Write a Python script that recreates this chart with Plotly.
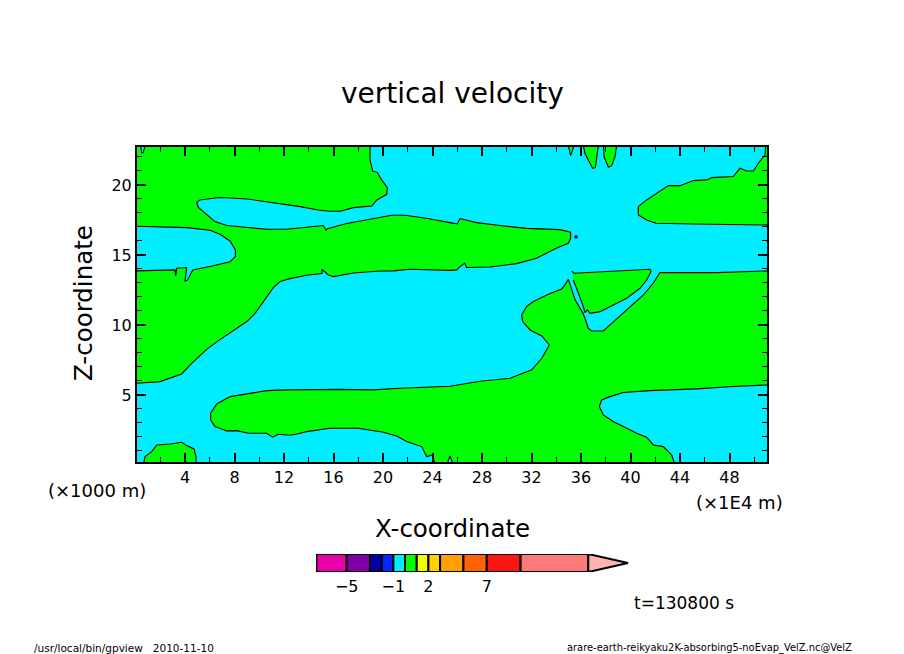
import plotly.graph_objects as go

CYAN = "#00EEFF"
GREEN = "#00FF00"

# Boundaries of the regions where vertical velocity lies in the 0..1 level band
band_x = [0.04,0.42,0.5,0.62,0.77,18.95,18.95,19.16,19.53,19.89,20.35,20.3,19.5,19.1,17.6,16.53,15.7,14.77,13.3,11.95,10.6,9.0,7.64,6.77,5.2,4.94,5.08,5.75,6.42,7.37,8.98,10.6,12.2,13.83,15.18,15.4,15.5,17.06,18.95,20.7,21.78,23.5,25.41,26.0,26.22,27.57,29.45,31.6,34.3,35.16,35.16,34.97,34.0,32.4,30.8,28.65,26.76,26.6,26.22,25.95,25.41,24.2,22.2,20.83,19.5,17.6,16.0,15.58,15.07,15.07,13.83,12.48,11.68,11.14,10.41,9.66,9.0,7.9,6.7,5.75,4.54,3.73,2.79,1.98,0.04,0.04,3.19,3.25,3.33,4.13,4.0,4.2,4.62,6.02,7.64,8.07,8.07,7.64,6.83,6.02,4.13,2.25,0.04]
band_y = [22.8,22.8,22.3,22.3,22.8,22.8,21.79,21.0,20.9,20.36,19.81,19.33,18.93,18.5,18.38,18.12,18.12,18.21,18.45,18.62,18.81,19.0,19.07,19.1,18.93,18.74,18.4,17.86,17.38,17.1,16.95,16.83,16.83,16.95,17.1,16.76,16.88,17.24,17.57,17.83,17.83,17.62,17.31,17.21,17.6,17.31,17.1,16.9,16.81,16.62,16.19,15.83,15.48,14.76,14.38,14.14,14.1,14.4,14.17,13.93,13.9,13.93,13.98,13.86,13.83,13.71,13.45,13.57,13.98,13.67,13.55,13.31,13.1,12.67,11.79,10.83,10.24,9.6,8.88,8.26,7.26,6.5,6.19,5.95,5.83,13.86,13.93,13.5,14.05,14.1,13.14,13.2,13.93,14.17,14.52,14.88,15.36,16.0,16.48,16.76,16.95,17.0,17.05]

spike1_x = [34.98,35.16,35.44]
spike1_y = [22.8,22.1,22.8]
spike2_x = [36.19,36.32,36.59,36.94,37.16,37.27,37.4]
spike2_y = [22.8,22.26,21.79,21.19,21.24,21.9,22.8]
spike3_x = [37.81,37.86,38.21,38.48,38.75,38.88]
spike3_y = [22.8,22.02,21.26,21.38,22.02,22.8]

upper_right_x = [50.92,50.87,50.33,49.93,49.4,48.85,48.3,46.56,46.16,45.08,44.0,43.06,42.11,41.3,40.63,40.63,41.3,42.06,45.08,49.12,51.1,51.1]
upper_right_y = [22.8,22.14,21.55,21.0,21.0,21.19,20.6,20.52,20.36,20.31,19.95,19.95,19.4,18.93,18.45,17.86,17.5,17.26,17.21,17.14,17.14,22.8]

wedge_x = [35.25,35.44,41.58,41.66,41.31,40.77,39.69,38.61,37.54,36.73,36.51,36.32,36.19,35.79,35.38]
wedge_y = [13.86,13.69,13.98,13.81,13.21,12.62,11.9,11.43,10.95,10.83,11.07,10.88,11.31,12.26,13.21]

lower_x = [34.98,35.52,36.13,36.32,36.59,36.86,37.8,38.48,39.69,41.04,41.84,42.25,42.38,46.96,50.47,51.1,51.1,48.3,45.35,41.58,39.42,38.34,37.67,37.48,37.8,38.6,39.42,40.5,41.3,41.85,42.65,43.33,43.6,25.7,25.41,25.15,24.2,24.01,23.53,23.12,21.91,21.1,20.03,18.81,18.0,15.72,13.83,13.03,12.48,11.54,11.08,10.6,9.12,8.18,7.37,6.42,6.07,6.07,6.56,7.64,9.12,10.6,12.2,16.52,19.2,21.37,25.41,27.84,30.27,32.02,32.83,33.44,32.83,31.88,31.29,31.2,31.6,32.15,33.36,34.44,34.7,34.98]
lower_y = [13.26,11.79,10.88,10.48,9.76,9.57,9.57,10.12,11.07,12.14,12.98,13.64,13.74,13.74,13.86,13.86,5.71,5.6,5.43,5.31,5.17,4.88,4.64,4.17,3.57,3.1,2.74,2.26,1.98,1.43,1.31,0.71,0.0,0.0,0.64,0.0,0.0,0.71,0.6,1.31,1.67,2.07,2.33,2.5,2.62,2.62,2.38,2.21,2.12,2.19,1.98,2.26,2.26,2.45,2.43,2.74,3.21,3.69,4.36,4.88,5.12,5.31,5.36,5.4,5.36,5.48,5.62,5.98,6.19,6.79,7.62,8.57,9.21,9.64,10.24,10.71,11.31,11.67,12.19,12.57,12.86,13.26]

patch_x = [0.63,0.77,1.31,1.71,2.79,3.73,4.13,4.73,4.89,4.89]
patch_y = [0.0,0.6,0.95,1.43,1.5,1.62,1.38,1.14,0.6,0.0]

speck_x = [35.6]
speck_y = [16.29]

regions = [(band_x, band_y), (spike1_x, spike1_y), (spike2_x, spike2_y), (spike3_x, spike3_y),
           (upper_right_x, upper_right_y), (wedge_x, wedge_y), (lower_x, lower_y), (patch_x, patch_y)]

# Colour key
level_edges = [-7.6,-5,-3,-2,-1,0,1,2,3,5,7,9.9,15.7]
level_colors = ["#E800A8","#8000A8","#0000A8","#0028FF",CYAN,GREEN,"#EEFF00","#FFD200","#FFA000","#FF6400","#FF1414","#FF7878"]
over_color = "#FFB4B4"
over_tip = 19.1
key_ticks = [-5,-1,2,7]

x_title = "X-coordinate"
z_title = "Z-coordinate"
main_title = "vertical velocity"

FONT = "DejaVu Sans"
fig = go.Figure()

for rx, ry in regions:
    fig.add_trace(go.Scatter(x=rx, y=ry, mode="lines", fill="toself", fillcolor=GREEN,
                             line=dict(color="black", width=1.1), hoverinfo="skip", showlegend=False))
fig.add_trace(go.Scatter(x=speck_x, y=speck_y, mode="markers",
                         marker=dict(color="black", size=3, symbol="square"), showlegend=False))

for lo, hi, c in zip(level_edges[:-1], level_edges[1:], level_colors):
    fig.add_trace(go.Bar(y=[0.5], x=[hi - lo], base=[lo], width=[1], orientation="h",
                         marker=dict(color=c, line=dict(color="black", width=2)),
                         xaxis="x2", yaxis="y2", showlegend=False))
fig.add_trace(go.Scatter(x=[level_edges[-1], over_tip, level_edges[-1], level_edges[-1]],
                         y=[1, 0.5, 0, 1], mode="lines", fill="toself", fillcolor=over_color,
                         line=dict(color="black", width=2), xaxis="x2", yaxis="y2", showlegend=False))

W, H = 904, 654
def xd(a, b): return [a / W, b / W]
def yd(top, bot): return [1 - bot / H, 1 - top / H]

tick_font = dict(family=FONT, size=16, color="black")
fig.update_layout(
    width=W, height=H, margin=dict(l=0, r=0, t=0, b=0), autosize=False,
    paper_bgcolor="white", plot_bgcolor="white", showlegend=False, barmode="overlay",
    font=dict(family=FONT, color="black"),
    xaxis=dict(domain=xd(137, 767), range=[0.12, 51.03], tickmode="linear", tick0=0, dtick=4,
               ticks="inside", ticklen=9, tickwidth=2, tickcolor="black", showgrid=False, zeroline=False,
               showline=True, linewidth=2, linecolor="black", mirror="ticks", tickfont=tick_font,
               minor=dict(dtick=2, tick0=0, ticks="inside", ticklen=5, tickwidth=1, tickcolor="black", showgrid=False)),
    yaxis=dict(domain=yd(147, 462), range=[0.21, 22.71], tickmode="linear", tick0=0, dtick=5,
               ticks="inside", ticklen=9, tickwidth=2, tickcolor="black", showgrid=False, zeroline=False,
               showline=True, linewidth=2, linecolor="black", mirror="ticks", tickfont=tick_font,
               minor=dict(dtick=1, tick0=0, ticks="inside", ticklen=5, tickwidth=1, tickcolor="black", showgrid=False)),
    xaxis2=dict(domain=xd(316, 630), range=[-7.63, 19.27], anchor="y2", tickmode="array", tickvals=key_ticks,
                ticks="", showgrid=False, zeroline=False, showline=False, tickfont=tick_font, ticklabelstandoff=3),
    yaxis2=dict(domain=yd(554, 572), range=[0, 1], anchor="x2", visible=False),
    shapes=[dict(type="rect", xref="x domain", yref="y domain", x0=0, x1=1, y0=0, y1=1,
                 fillcolor=CYAN, line=dict(width=0), layer="below")],
)

def label(text, px, py, size, angle=0, xanchor="center"):
    fig.add_annotation(text=text, x=px / W, y=1 - py / H, xref="paper", yref="paper", showarrow=False,
                       xanchor=xanchor, yanchor="middle", textangle=angle,
                       font=dict(family=FONT, size=size, color="black"))

label(main_title, 452, 93, 28)
label(x_title, 452, 528, 24.5)
label(z_title, 83, 303, 24.5, angle=-90)
label("(×1000 m)", 97, 490, 18)
label("(×1E4 m)", 739, 502, 18)
label("t=130800 s", 684, 603, 17)
label("/usr/local/bin/gpview   2010-11-10", 32, 648, 10.5, xanchor="left")
label("arare-earth-reikyaku2K-absorbing5-noEvap_VelZ.nc@VelZ", 565, 648, 9.9, xanchor="left")

fig.write_html("out.html", config=dict(displayModeBar=False),
               post_script="document.body.style.margin='0';")
